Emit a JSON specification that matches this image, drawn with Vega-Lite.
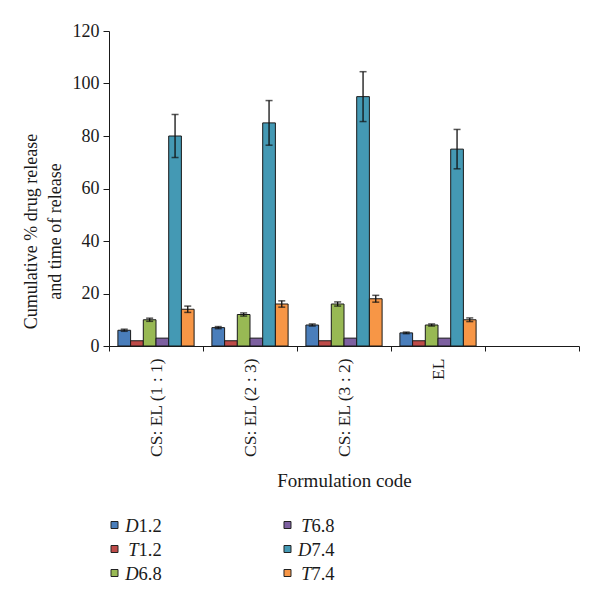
{
  "$schema": "https://vega.github.io/schema/vega-lite/v6.json",
  "padding": {"left": 22, "top": 22, "right": 0, "bottom": 0},
  "background": "white",
  "spacing": 22,
  "config": {
    "view": {"stroke": null},
    "font": "Liberation Serif",
    "axis": {
      "labelFont": "Liberation Serif",
      "titleFont": "Liberation Serif",
      "labelColor": "#1a1a1a",
      "titleColor": "#1a1a1a",
      "domainColor": "#1a1a1a",
      "tickColor": "#1a1a1a",
      "grid": false,
      "titleFontWeight": "normal"
    }
  },
  "datasets": {
    "bars": [
      {"formulation": "CS: EL (1 : 1)", "series": "D1.2", "value": 6, "lo": 5.6, "hi": 6.4},
      {"formulation": "CS: EL (1 : 1)", "series": "T1.2", "value": 2, "lo": 2, "hi": 2},
      {"formulation": "CS: EL (1 : 1)", "series": "D6.8", "value": 10, "lo": 9.4, "hi": 10.6},
      {"formulation": "CS: EL (1 : 1)", "series": "T6.8", "value": 3, "lo": 3, "hi": 3},
      {"formulation": "CS: EL (1 : 1)", "series": "D7.4", "value": 80, "lo": 71.8, "hi": 88.2},
      {"formulation": "CS: EL (1 : 1)", "series": "T7.4", "value": 14, "lo": 12.8, "hi": 15.2},
      {"formulation": "CS: EL (2 : 3)", "series": "D1.2", "value": 7, "lo": 6.6, "hi": 7.4},
      {"formulation": "CS: EL (2 : 3)", "series": "T1.2", "value": 2, "lo": 2, "hi": 2},
      {"formulation": "CS: EL (2 : 3)", "series": "D6.8", "value": 12, "lo": 11.4, "hi": 12.6},
      {"formulation": "CS: EL (2 : 3)", "series": "T6.8", "value": 3, "lo": 3, "hi": 3},
      {"formulation": "CS: EL (2 : 3)", "series": "D7.4", "value": 85, "lo": 76.5, "hi": 93.5},
      {"formulation": "CS: EL (2 : 3)", "series": "T7.4", "value": 16, "lo": 14.8, "hi": 17.2},
      {"formulation": "CS: EL (3 : 2)", "series": "D1.2", "value": 8, "lo": 7.6, "hi": 8.4},
      {"formulation": "CS: EL (3 : 2)", "series": "T1.2", "value": 2, "lo": 2, "hi": 2},
      {"formulation": "CS: EL (3 : 2)", "series": "D6.8", "value": 16, "lo": 15.2, "hi": 16.8},
      {"formulation": "CS: EL (3 : 2)", "series": "T6.8", "value": 3, "lo": 3, "hi": 3},
      {"formulation": "CS: EL (3 : 2)", "series": "D7.4", "value": 95, "lo": 85.5, "hi": 104.5},
      {"formulation": "CS: EL (3 : 2)", "series": "T7.4", "value": 18, "lo": 16.7, "hi": 19.3},
      {"formulation": "EL", "series": "D1.2", "value": 5, "lo": 4.7, "hi": 5.3},
      {"formulation": "EL", "series": "T1.2", "value": 2, "lo": 2, "hi": 2},
      {"formulation": "EL", "series": "D6.8", "value": 8, "lo": 7.6, "hi": 8.4},
      {"formulation": "EL", "series": "T6.8", "value": 3, "lo": 3, "hi": 3},
      {"formulation": "EL", "series": "D7.4", "value": 75, "lo": 67.5, "hi": 82.5},
      {"formulation": "EL", "series": "T7.4", "value": 10, "lo": 9.3, "hi": 10.7}
    ],
    "legend": [
      {"series": "D1.2", "letter": "D", "num": "1.2", "col": 0, "row": 0},
      {"series": "T1.2", "letter": "T", "num": "1.2", "col": 0, "row": 1},
      {"series": "D6.8", "letter": "D", "num": "6.8", "col": 0, "row": 2},
      {"series": "T6.8", "letter": "T", "num": "6.8", "col": 1, "row": 0},
      {"series": "D7.4", "letter": "D", "num": "7.4", "col": 1, "row": 1},
      {"series": "T7.4", "letter": "T", "num": "7.4", "col": 1, "row": 2}
    ]
  },
  "vconcat": [
    {
      "width": 470,
      "height": 315,
      "data": {"name": "bars"},
      "encoding": {
        "x": {
          "field": "formulation",
          "type": "nominal",
          "scale": {"domain": ["CS: EL (1 : 1)", "CS: EL (2 : 3)", "CS: EL (3 : 2)", "EL", " "], "paddingInner": 0, "paddingOuter": 0},
          "axis": {
            "title": "Formulation code",
            "labelAngle": -90,
            "labelFontSize": 17.5,
            "titleFontSize": 19,
            "tickBand": "extent",
            "tickSize": 5,
            "labelPadding": 7,
            "titlePadding": 14
          }
        },
        "xOffset": {
          "field": "series",
          "type": "nominal",
          "sort": ["D1.2", "T1.2", "D6.8", "T6.8", "D7.4", "T7.4"],
          "scale": {"paddingInner": 0, "paddingOuter": 0.7}
        }
      },
      "layer": [
        {
          "mark": {"type": "bar", "stroke": "#1a1a1a", "strokeWidth": 1},
          "encoding": {
            "y": {
              "field": "value",
              "type": "quantitative",
              "title": ["Cumulative % drug release", "and time of release"],
              "scale": {"domain": [0, 120], "nice": false},
              "axis": {
                "values": [0, 20, 40, 60, 80, 100, 120],
                "labelFontSize": 18,
                "titleFontSize": 18,
                "tickSize": 6,
                "labelPadding": 4,
                "titlePadding": 8,
                "titleY": 200,
                "titleLineHeight": 24
              }
            },
            "color": {
              "field": "series",
              "type": "nominal",
              "scale": {
                "domain": ["D1.2", "T1.2", "D6.8", "T6.8", "D7.4", "T7.4"],
                "range": ["#4a7ebb", "#be4b48", "#98b954", "#7d60a0", "#4499b4", "#f79646"]
              },
              "legend": null
            }
          }
        },
        {
          "transform": [{"filter": "datum.hi > datum.value"}],
          "mark": {"type": "rule", "color": "#111111", "strokeWidth": 1.3},
          "encoding": {
            "y": {"field": "lo", "type": "quantitative", "title": ["Cumulative % drug release", "and time of release"]},
            "y2": {"field": "hi"}
          }
        },
        {
          "transform": [{"filter": "datum.hi > datum.value"}],
          "mark": {"type": "tick", "color": "#111111", "thickness": 1.5, "size": 7},
          "encoding": {
            "y": {"field": "hi", "type": "quantitative", "title": ["Cumulative % drug release", "and time of release"]}
          }
        },
        {
          "transform": [{"filter": "datum.hi > datum.value"}],
          "mark": {"type": "tick", "color": "#111111", "thickness": 1.5, "size": 7},
          "encoding": {
            "y": {"field": "lo", "type": "quantitative", "title": ["Cumulative % drug release", "and time of release"]}
          }
        }
      ]
    },
    {
      "width": 470,
      "height": 72,
      "data": {"name": "legend"},
      "encoding": {
        "x": {"field": "col", "type": "quantitative", "scale": {"domain": [-0.0318, 2.685], "nice": false, "zero": false}, "axis": null},
        "y": {"field": "row", "type": "quantitative", "scale": {"domain": [-0.5, 2.5], "reverse": true, "nice": false, "zero": false}, "axis": null}
      },
      "layer": [
        {
          "mark": {"type": "point", "shape": "square", "filled": true, "size": 49, "stroke": "#222222", "strokeWidth": 1, "opacity": 1},
          "encoding": {"color": {"field": "series", "type": "nominal", "legend": null}}
        },
        {
          "mark": {"type": "text", "align": "right", "baseline": "middle", "dx": 24, "dy": 1, "fontSize": 18.5, "fontStyle": "italic", "font": "Liberation Serif", "color": "#1a1a1a"},
          "encoding": {"text": {"field": "letter"}}
        },
        {
          "mark": {"type": "text", "align": "left", "baseline": "middle", "dx": 24, "dy": 1, "fontSize": 18.5, "font": "Liberation Serif", "color": "#1a1a1a"},
          "encoding": {"text": {"field": "num"}}
        }
      ]
    }
  ]
}
